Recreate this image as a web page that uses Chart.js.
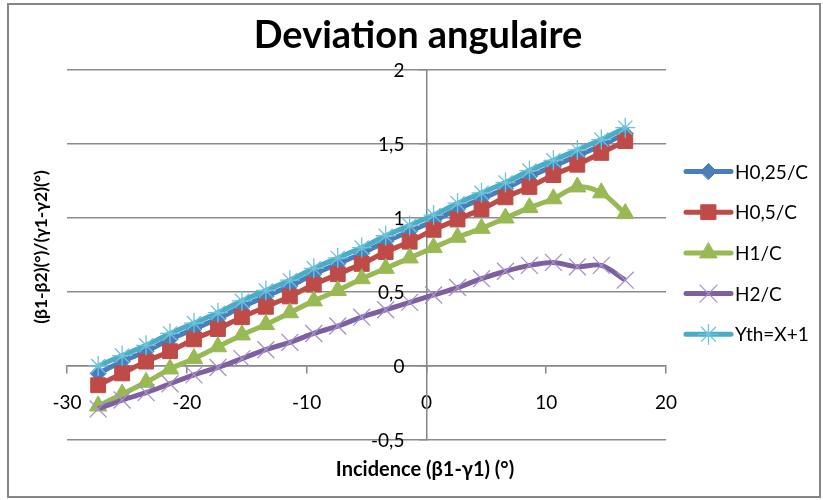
<!DOCTYPE html>
<html>
<head>
<meta charset="utf-8">
<title>Deviation angulaire</title>
<script src="https://cdn.jsdelivr.net/npm/chart.js"></script>
<style>
    html, body { margin: 0; padding: 0; background: #fff; }
    #wrap { width: 823px; height: 500px; }
</style>
</head>
<body>
<div id="wrap"><canvas id="devChart" width="823" height="500"></canvas></div>
<script>
const chartTitle = 'Deviation angulaire';
const xTitle = 'Incidence (\u03b21-\u03b31) (\u00b0)';
const yTitle = '(\u03b21-\u03b22)(\u00b0)/(\u03b31-\u03b32)(\u00b0)';

const seriesNames = ['H0,25/C', 'H0,5/C', 'H1/C', 'H2/C', 'Yth=X+1'];

// incidence (deg)
const incidence = [-27.4, -25.4, -23.4, -21.4, -19.4, -17.4, -15.4, -13.4, -11.4, -9.4, -7.4, -5.4,
    -3.4, -1.4, 0.6, 2.6, 4.6, 6.6, 8.6, 10.6, 12.6, 14.6, 16.6];

const h025 = [-0.05, 0.03, 0.10, 0.18, 0.25, 0.32, 0.40, 0.47, 0.54, 0.62, 0.69, 0.76,
    0.84, 0.91, 0.98, 1.06, 1.13, 1.20, 1.28, 1.35, 1.42, 1.49, 1.57];
const h05 = [-0.13, -0.05, 0.03, 0.10, 0.18, 0.25, 0.33, 0.40, 0.47, 0.55, 0.62, 0.69,
    0.77, 0.84, 0.92, 0.99, 1.06, 1.14, 1.21, 1.29, 1.36, 1.44, 1.52];
const h1 = [-0.27, -0.19, -0.11, -0.02, 0.05, 0.13, 0.21, 0.28, 0.36, 0.44, 0.51, 0.59,
    0.66, 0.73, 0.80, 0.87, 0.93, 1.00, 1.07, 1.13, 1.21, 1.17, 1.03];
const h2 = [-0.29, -0.23, -0.18, -0.12, -0.06, -0.01, 0.05, 0.11, 0.16, 0.22, 0.27, 0.33,
    0.38, 0.43, 0.48, 0.53, 0.59, 0.64, 0.68, 0.70, 0.67, 0.68, 0.58];
const yth = [0.00, 0.07, 0.14, 0.22, 0.29, 0.36, 0.44, 0.51, 0.58, 0.66, 0.73, 0.80,
    0.88, 0.95, 1.02, 1.10, 1.17, 1.24, 1.32, 1.39, 1.46, 1.53, 1.61];

const xTicks = [-30, -20, -10, 0, 10, 20];
const xTickLabels = ['-30', '-20', '-10', '0', '10', '20'];
const yTicks = [-0.5, 0, 0.5, 1, 1.5, 2];
const yTickLabels = ['-0,5', '0', '0,5', '1', '1,5', '2'];

const FONT = 'Lato, "Open Sans", sans-serif';

const styles = [
    { line: '#4A7EBB', fill: '#4A7EBB', border: '#4A7EBB', pointStyle: 'rectRot', radius: 8, bw: 1 },
    { line: '#BE4B48', fill: '#BE4B48', border: '#BE4B48', pointStyle: 'rect', radius: 10.5, bw: 1 },
    { line: '#98B954', fill: '#98B954', border: '#98B954', pointStyle: 'triangle', radius: 10, bw: 1 },
    { line: '#7D60A0', fill: 'rgba(0,0,0,0)', border: '#A592C8', pointStyle: 'crossRot', radius: 12, bw: 1.3 },
    { line: '#4BACC6', fill: 'rgba(0,0,0,0)', border: '#6CC3DA', pointStyle: 'star', radius: 10, bw: 1.3 }
];

function toPoints(ys) {
    return incidence.map((x, i) => ({ x: x, y: ys[i] }));
}

const allSeries = [h025, h05, h1, h2, yth];

const datasets = allSeries.map((ys, i) => ({
    label: seriesNames[i],
    data: toPoints(ys),
    showLine: true,
    borderColor: styles[i].line,
    borderWidth: 5,
    tension: 0.33,
    pointStyle: styles[i].pointStyle,
    pointRadius: styles[i].radius,
    pointHoverRadius: styles[i].radius,
    pointBackgroundColor: styles[i].fill,
    pointBorderColor: styles[i].border,
    pointBorderWidth: styles[i].bw,
    order: allSeries.length - 1 - i
}));

// title, axis titles, y tick labels, legend and frame, drawn like the Excel sheet
const decorPlugin = {
    id: 'decor',
    beforeDraw(chart) {
        const ctx = chart.ctx;
        ctx.save();
        ctx.fillStyle = '#fff';
        ctx.fillRect(0, 0, chart.width, chart.height);
        ctx.restore();
    },
    afterDraw(chart) {
        const ctx = chart.ctx;
        const xs = chart.scales.x;
        const ys = chart.scales.y;
        ctx.save();

        ctx.strokeStyle = '#868686';
        ctx.lineWidth = 2;
        ctx.strokeRect(8, 4, 812, 493);

        ctx.fillStyle = '#000';
        ctx.textAlign = 'center';
        ctx.textBaseline = 'middle';
        ctx.font = 'bold 38px ' + FONT;
        ctx.fillText(chartTitle, 418, 36);

        ctx.font = 'bold 20px ' + FONT;
        ctx.fillText(xTitle, 425, 470);

        ctx.save();
        ctx.translate(41, 247);
        ctx.rotate(-Math.PI / 2);
        ctx.font = 'bold 17.5px ' + FONT;
        ctx.fillText(yTitle, 0, 0);
        ctx.restore();

        // y tick labels sit left of the y axis (which crosses at x = 0)
        ctx.font = '19px ' + FONT;
        ctx.textAlign = 'right';
        const axisX = xs.getPixelForValue(0);
        yTicks.forEach((v, i) => {
            ctx.fillText(yTickLabels[i], axisX - 22, ys.getPixelForValue(v) + 1);
        });

        // legend
        ctx.textAlign = 'left';
        seriesNames.forEach((name, i) => {
            const y = 171.5 + i * 40.7;
            const st = styles[i];
            ctx.strokeStyle = st.line;
            ctx.lineWidth = 5;
            ctx.lineCap = 'round';
            ctx.beginPath();
            ctx.moveTo(686, y);
            ctx.lineTo(731, y);
            ctx.stroke();
            ctx.fillStyle = st.fill;
            ctx.strokeStyle = st.border;
            ctx.lineWidth = st.bw;
            Chart.helpers.drawPoint(ctx, {
                pointStyle: st.pointStyle, rotation: 0, radius: st.radius, borderWidth: st.bw
            }, 708.5, y);
            ctx.fillStyle = '#000';
            ctx.fillText(name, 735, y + 1);
        });

        ctx.restore();
    }
};

new Chart(document.getElementById('devChart'), {
    type: 'scatter',
    data: { datasets: datasets },
    options: {
        responsive: false,
        animation: false,
        events: [],
        layout: { padding: { left: 67, right: 157, top: 70, bottom: 60 } },
        plugins: {
            legend: { display: false },
            title: { display: false },
            tooltip: { enabled: false }
        },
        scales: {
            x: {
                type: 'linear',
                position: { y: 0 },
                min: -30,
                max: 20,
                afterBuildTicks: s => { s.ticks = xTicks.map(v => ({ value: v })); },
                ticks: {
                    callback: (v, i) => xTickLabels[i],
                    color: '#000',
                    font: { family: FONT, size: 19 },
                    padding: 18,
                    maxRotation: 0
                },
                grid: { drawOnChartArea: false, drawTicks: true, tickLength: 7, color: '#868686', lineWidth: 1.5 },
                border: { display: true, color: '#868686', width: 1.5 }
            },
            y: {
                type: 'linear',
                position: { x: 0 },
                min: -0.5,
                max: 2,
                afterBuildTicks: s => { s.ticks = yTicks.map(v => ({ value: v })); },
                ticks: { display: false },
                grid: { color: '#8c8c8c', lineWidth: 1.5, drawTicks: true, tickLength: 7 },
                border: { display: true, color: '#868686', width: 1.5 }
            }
        }
    },
    plugins: [decorPlugin]
});
</script>
</body>
</html>
